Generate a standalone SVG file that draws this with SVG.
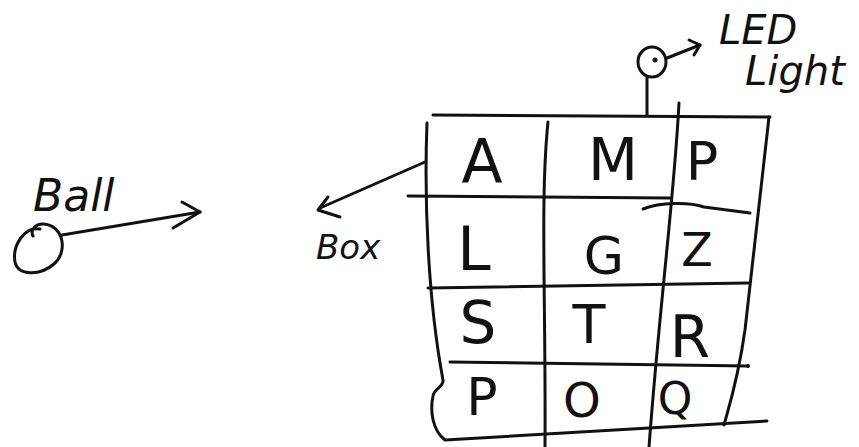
<svg xmlns="http://www.w3.org/2000/svg" width="859" height="447" viewBox="0 0 859 447">
<defs>
<style>
.ln{fill:none;stroke:#111;stroke-width:3;stroke-linecap:round;stroke-linejoin:round}
.lt{font-family:"DejaVu Sans","Liberation Sans",sans-serif;fill:#111;text-anchor:middle}
.lbl{font-family:"DejaVu Sans","Liberation Sans",sans-serif;fill:#111;font-style:italic}
</style>
</defs>
<rect width="859" height="447" fill="#fff"/>

<g id="ball">
<path class="ln" d="M40,229 C25,226 12,245 15,262 C18,276 40,276 54,264 C68,252 64,226 44,224 C36,223 30,230 33,236"/>
<text class="lbl" x="33" y="211" font-size="44">Ball</text>
</g>

<g id="box">
<path class="ln" d="M433,115 L770,117"/>
<path class="ln" d="M427,123 C424,200 428,300 443,380 C444,387 434,388 433,396 C430,410 432,430 445,440 L767,421"/>
<path class="ln" d="M769,117 C760,200 750,280 745,330 C738,380 728,410 724,425"/>
<path class="ln" d="M548,122 C540,200 546,300 545,447"/>
<path class="ln" d="M679,103 C674,200 660,300 649,447"/>
<path class="ln" d="M408,196 L670,198"/>
<path class="ln" d="M643,209 C660,202 690,202 704,207 L750,213"/>
<path class="ln" d="M428,288 L748,283"/>
<path class="ln" d="M450,362 L748,366"/>
<circle cx="748" cy="366" r="2" fill="#111"/>
<text class="lt" x="482" y="182" font-size="60">A</text>
<text class="lt" x="613" y="180" font-size="58">M</text>
<text class="lt" x="702" y="180" font-size="54">P</text>
<text class="lt" x="474" y="270" font-size="60">L</text>
<text class="lt" x="604" y="274" font-size="52">G</text>
<text class="lt" x="697" y="266" font-size="46">Z</text>
<text class="lt" x="478" y="343" font-size="58">S</text>
<text class="lt" x="589" y="343" font-size="54">T</text>
<text class="lt" x="690" y="357" font-size="58">R</text>
<text class="lt" x="482" y="415" font-size="52">P</text>
<text class="lt" x="582" y="417" font-size="48">O</text>
<text class="lt" x="675" y="414" font-size="44">Q</text>
</g>

<g id="box-label">
<text class="lbl" x="316" y="259" font-size="34">Box</text>
</g>

<g id="led">
<path class="ln" d="M647,77 L647,115"/>
<ellipse class="ln" cx="652" cy="62" rx="14" ry="15"/>
<circle cx="655" cy="60" r="2.5" fill="#111"/>
<text class="lbl" x="719" y="44" font-size="40">LED</text>
<text class="lbl" x="745" y="85" font-size="40">Light</text>
</g>

<g id="connectors">
<path class="ln" d="M62,235 L200,212"/>
<path class="ln" d="M182,202 L200,212 L173,228"/>
<path class="ln" d="M425,162 L320,208"/>
<path class="ln" d="M328,197 L318,210 L340,217"/>
<path class="ln" d="M667,58 L700,45"/>
<path class="ln" d="M689,40 L700,45 L694,55"/>
</g>
</svg>
